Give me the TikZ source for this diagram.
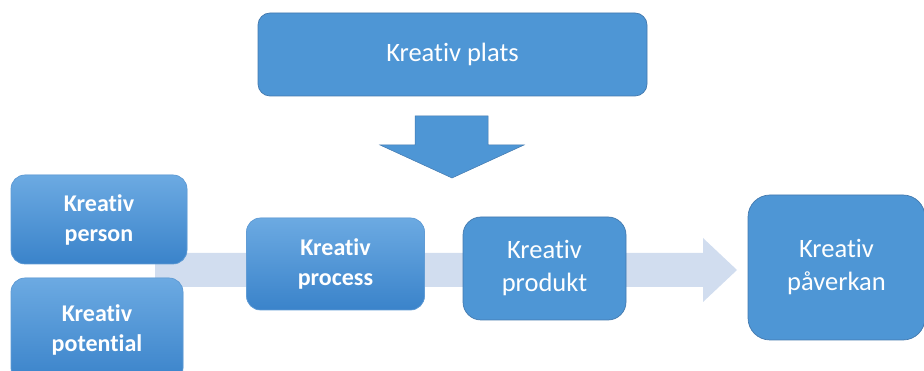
\documentclass[tikz,border=0pt]{standalone}
\usepackage{fontspec}
\setmainfont{Carlito}[Ligatures={NoCommon}]
\usepackage{xcolor}
\definecolor{boxblue}{HTML}{4E96D5}
\definecolor{boxline}{HTML}{4379AE}
\definecolor{gradtop}{HTML}{6CAAE2}
\definecolor{gradbot}{HTML}{3A83CA}
\definecolor{flowblue}{HTML}{D1DDEF}

\begin{document}
\begin{tikzpicture}[x=1pt,y=-1pt]
	\tikzstyle{box}=[draw=boxline,line width=0.7pt,fill=boxblue,text=white,align=center,inner sep=0pt,outer sep=0pt,font=\fontsize{26.5}{33}\selectfont]
	\tikzstyle{gradbox}=[box,draw=gradbot!80,top color=gradtop,bottom color=gradbot,font=\bfseries\fontsize{24}{30}\selectfont]
	\useasboundingbox (0,0) rectangle (924,371);
	% flow behind the boxes
	\fill[flowblue] (155,253) -- (703,253) -- (703,238) -- (737,270) -- (703,302) -- (703,287) -- (155,287) -- cycle;
	% boxes
	\node[box,rounded corners=12pt,minimum width=389pt,minimum height=83pt](plats) at (452.5,54.5){Kreativ plats};
	\node[gradbox,rounded corners=14pt,minimum width=176pt,minimum height=89pt](person) at (99,219.5){Kreativ\\person};
	\node[gradbox,rounded corners=14pt,minimum width=172pt,minimum height=104pt](potential) at (97,330){\raisebox{12pt}{\begin{tabular}{@{}c@{}}Kreativ\\potential\end{tabular}}};
	\node[gradbox,rounded corners=14pt,minimum width=178pt,minimum height=92pt](process) at (335.5,264){Kreativ\\process};
	\node[box,rounded corners=18pt,minimum width=163pt,minimum height=103pt](produkt) at (544.5,268.5){Kreativ\\produkt};
	\node[box,rounded corners=22pt,minimum width=177pt,minimum height=145pt](paverkan) at (836.5,267.5){Kreativ\\påverkan};
	% arrow from plats
	\filldraw[fill=boxblue,draw=boxline,line width=0.5pt] (415,116) -- (488,116) -- (488,145) -- (524,145) -- (452,178) -- (380,145) -- (415,145) -- cycle;
\end{tikzpicture}
\end{document}
